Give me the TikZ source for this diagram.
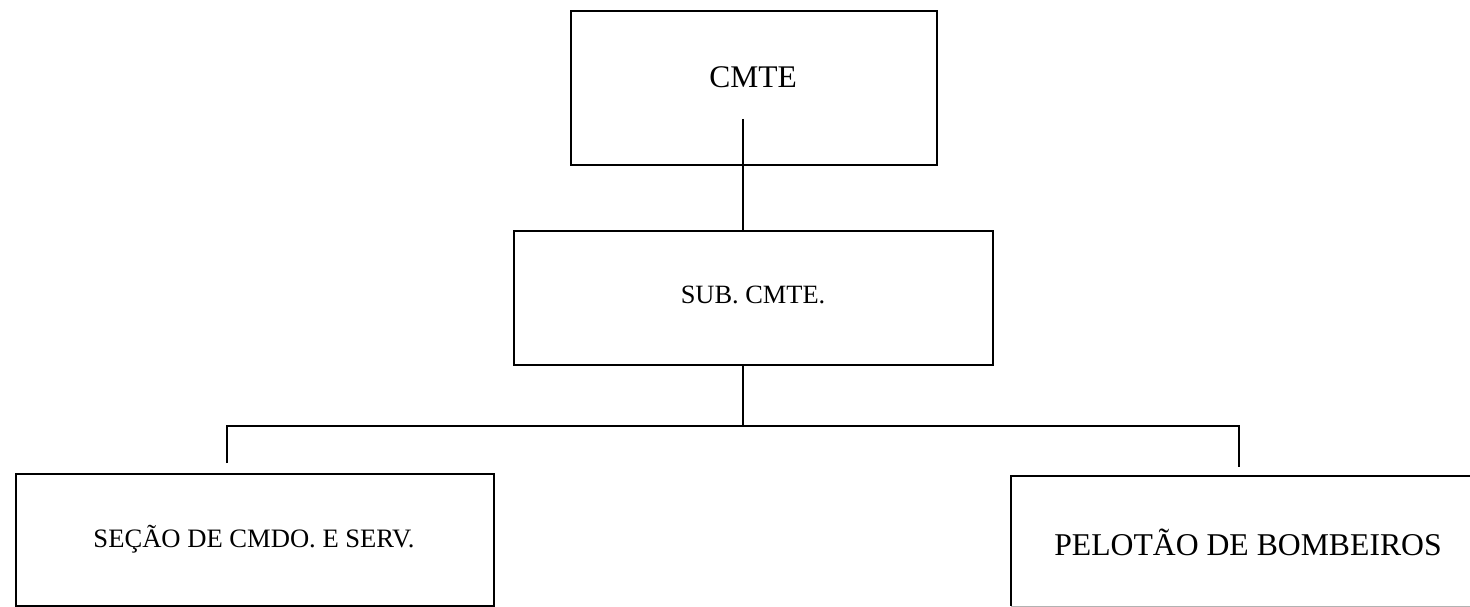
\documentclass[tikz,border=0pt]{standalone}
\usepackage{fontspec}
\setmainfont{Liberation Serif}
\newfontfamily\orgserif{Liberation Serif}
\begin{document}
\begin{tikzpicture}[x=1pt,y=-1pt,
  orgbox/.style={draw=black, line width=2pt, rectangle, inner sep=0pt, anchor=north west},
  lbl/.style={anchor=base, inner sep=0pt},
  wire/.style={line width=2pt}]
\useasboundingbox (0,0) rectangle (1470,607);
\fill[white] (0,0) rectangle (1470,607);

% boxes of the chart
\node[orgbox, minimum width=366pt, minimum height=154pt] (cmte) at (570,10) {};
\node[orgbox, minimum width=479pt, minimum height=134pt] (sub) at (513,230) {};
\node[orgbox, minimum width=478pt, minimum height=132pt] (sec) at (15,473) {};
\node[orgbox, draw=none, minimum width=500pt, minimum height=128pt] (pel) at (1011,476) {};
\draw[wire] (pel.south west) -- (pel.north west) -- (pel.north east);
\draw[line width=1pt, black!30] (pel.south west) -- (pel.south east);

% box titles
\node[lbl, font=\orgserif\fontsize{31.5pt}{36pt}\selectfont] (cmtetxt) at (753,88) {CMTE};
\node[lbl, font=\orgserif\fontsize{26.4pt}{30pt}\selectfont] (subtxt) at (753,303) {SUB. CMTE.};
\node[lbl, font=\orgserif\fontsize{26.6pt}{30pt}\selectfont] (sectxt) at (254,547) {SEÇÃO DE CMDO. E SERV.};
\node[lbl, font=\orgserif\fontsize{31.7pt}{36pt}\selectfont] (peltxt) at (1248,555) {PELOTÃO DE BOMBEIROS};

% connectors
\coordinate (cmtetail) at (743,119);
\coordinate (bus) at (743,426);
\coordinate (busL) at (227,426);
\coordinate (busR) at (1239,426);
\coordinate (secend) at (227,463);
\coordinate (pelend) at (1239,467);
\draw[wire] (cmtetail) -- (cmtetail |- sub.north);
\draw[wire] (bus |- sub.south) -- (bus);
\draw[wire] (secend) -- (busL) -- (busR) -- (pelend);
\end{tikzpicture}
\end{document}
